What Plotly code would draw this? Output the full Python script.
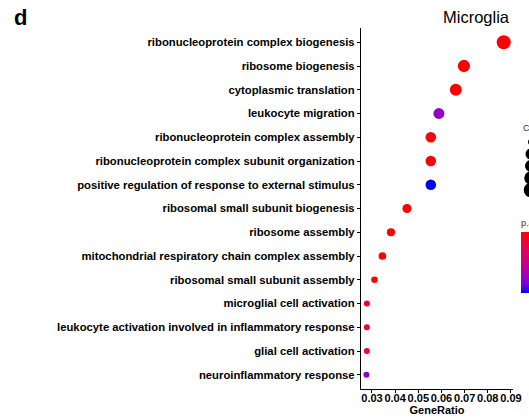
import plotly.graph_objects as go
import numpy as np

terms = [
    "ribonucleoprotein complex biogenesis",
    "ribosome biogenesis",
    "cytoplasmic translation",
    "leukocyte migration",
    "ribonucleoprotein complex assembly",
    "ribonucleoprotein complex subunit organization",
    "positive regulation of response to external stimulus",
    "ribosomal small subunit biogenesis",
    "ribosome assembly",
    "mitochondrial respiratory chain complex assembly",
    "ribosomal small subunit assembly",
    "microglial cell activation",
    "leukocyte activation involved in inflammatory response",
    "glial cell activation",
    "neuroinflammatory response",
]
gene_ratio = [0.0869, 0.0697, 0.0662, 0.0589, 0.0554, 0.0554, 0.0554,
              0.0451, 0.0382, 0.0345, 0.0311, 0.0278, 0.0278, 0.0278, 0.0276]
count = [31, 25, 24, 21, 20, 20, 20, 16, 14, 13, 11, 10, 10, 10, 10]
p_adjust = [1e-9, 2e-8, 5e-8, 0.0031, 1e-6, 1e-6, 0.0040, 3e-6, 5e-6, 8e-6,
            2e-5, 0.0005, 0.00048, 0.0006, 0.0032]
x_ticks = [0.03, 0.04, 0.05, 0.06, 0.07, 0.08, 0.09]

W, H = 529, 419
L, R, T, B = 361, 16, 28, 30
pw, ph = W - L - R, H - T - B

def px_x(x):
    return (x - L) / pw

def px_y(y):
    return (H - B - y) / ph

# ggplot-like area scaling of point size
dmin, dmax = 6.0, 14.0
cmin_c, cmax_c = min(count), max(count)
sizes = [np.sqrt(dmin**2 + (dmax**2 - dmin**2) * (c - cmin_c) / (cmax_c - cmin_c)) for c in count]

colorscale = [[0.0, "#FF0000"], [0.125, "#F40030"], [0.25, "#E80050"], [0.5, "#CA0088"],
              [0.75, "#9A00C3"], [0.875, "#7300E0"], [1.0, "#0000FF"]]
rev_scale = [[1 - s, c] for s, c in colorscale[::-1]]

fig = go.Figure()
fig.add_trace(go.Scatter(
    x=gene_ratio, y=terms, mode="markers",
    marker=dict(size=sizes, color=p_adjust, colorscale=colorscale,
                cmin=min(p_adjust), cmax=max(p_adjust), line=dict(width=0), opacity=1,
                showscale=False),
    showlegend=False, hoverinfo="x+y",
))
# colour guide (reversed so low p.adjust / red sits on top, as in ggplot)
neg_p = [-p for p in p_adjust]
fig.add_trace(go.Scatter(
    x=[None], y=[None], mode="markers", showlegend=False, hoverinfo="skip",
    marker=dict(color=neg_p, colorscale=rev_scale, cmin=min(neg_p), cmax=max(neg_p),
                showscale=True,
                colorbar=dict(
                    x=px_x(521), xanchor="left", xpad=0,
                    y=px_y(254.5), yanchor="middle", ypad=0,
                    lenmode="pixels", len=76, thickness=12,
                    outlinewidth=0, ticks="inside", tickcolor="white", ticklen=3,
                    showticklabels=False,
                    title=dict(text="p.adjust", side="top",
                               font=dict(size=9, color="#333333", family="Liberation Sans, Arial")),
                )),
))

fig.update_layout(
    width=W, height=H, margin=dict(l=L, r=R, t=T, b=B, autoexpand=False),
    paper_bgcolor="white", plot_bgcolor="white",
    font=dict(family="Liberation Sans, Arial", color="black"),
    xaxis=dict(range=[0.02526, 0.0909], tickvals=x_ticks,
               ticktext=[f"{v:.2f}" for v in x_ticks], tickangle=0,
               showline=True, linecolor="black", linewidth=1.2,
               ticks="outside", ticklen=3, tickcolor="black", tickwidth=1,
               ticklabelstandoff=-4,
               showgrid=False, zeroline=False,
               tickfont=dict(size=11, weight="bold", color="black"),
               title=dict(text="GeneRatio", font=dict(size=11, weight="bold", color="black"),
                          standoff=2)),
    yaxis=dict(type="category", categoryorder="array", categoryarray=terms[::-1],
               range=[-0.6, 14.6],
               showline=True, linecolor="black", linewidth=1.2,
               ticks="outside", ticklen=3, tickcolor="black", tickwidth=1,
               showgrid=False, zeroline=False,
               tickfont=dict(size=11.3, weight="bold", color="black")),
)

fig.add_annotation(text="d", x=px_x(20), y=px_y(17), xref="paper", yref="paper",
                   xanchor="center", yanchor="middle",
                   showarrow=False, font=dict(size=22, weight="bold", color="black"))
fig.add_annotation(text="Microglia", x=px_x(476), y=px_y(17), xref="paper", yref="paper",
                   xanchor="center", yanchor="middle",
                   showarrow=False, font=dict(size=16.5, color="black"))
fig.add_annotation(text="Count", x=px_x(521), y=px_y(128), xref="paper", yref="paper",
                   xanchor="left", yanchor="middle", showarrow=False,
                   font=dict(size=9, color="#333333"))

# partially visible size-legend keys (cropped at right edge)
for cy, d in zip([142, 154, 166, 178, 190], [6, 11, 12, 13.5, 14.5]):
    fig.add_shape(type="circle", xref="paper", yref="paper",
                  x0=px_x(531 - d / 2), x1=px_x(531 + d / 2),
                  y0=px_y(cy + d / 2), y1=px_y(cy - d / 2),
                  fillcolor="black", line=dict(width=0))

fig.write_html("out.html")
